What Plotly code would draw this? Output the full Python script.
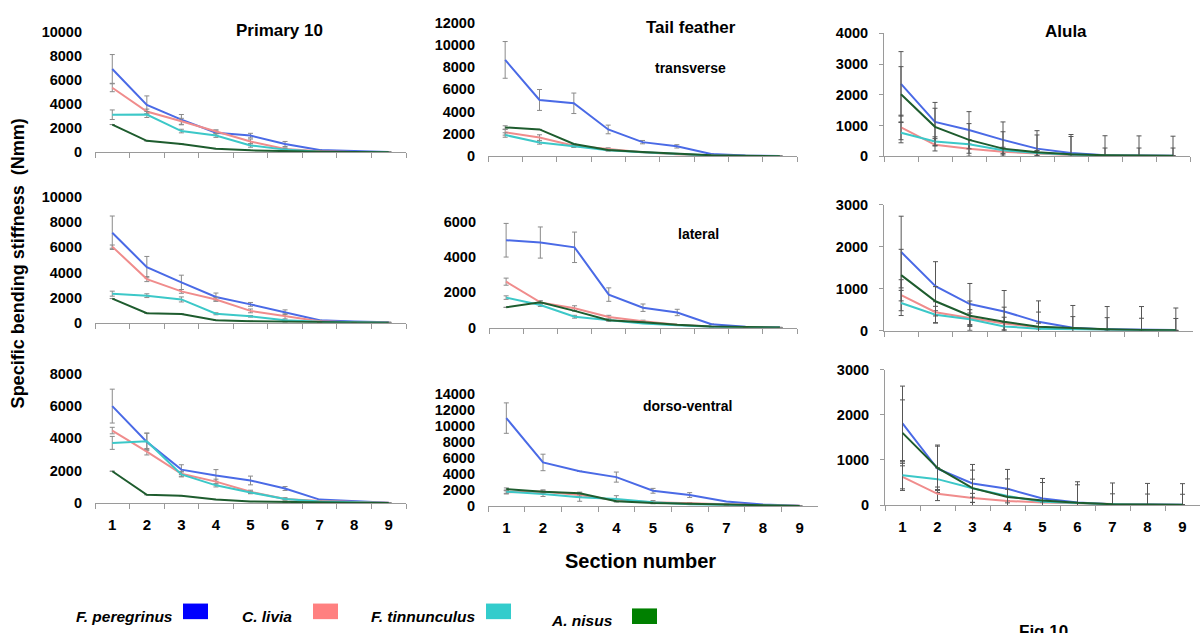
import plotly.graph_objects as go
from plotly.subplots import make_subplots

W, H = 1200, 633
sections = ["1", "2", "3", "4", "5", "6", "7", "8", "9"]
species = ["F. peregrinus", "C. livia", "F. tinnunculus", "A. nisus"]
line_colors = ["#4a6ae6", "#f08c8c", "#3cc8c8", "#1e5c2e"]
legend_colors = ["#0000ff", "#ff8080", "#33cccc", "#008000"]
col_titles = ["Primary 10", "Tail feather", "Alula"]
row_labels = ["transverse", "lateral", "dorso-ventral"]
y_ticks = [
    [[0, 2000, 4000, 6000, 8000, 10000], [0, 2000, 4000, 6000, 8000, 10000, 12000], [0, 1000, 2000, 3000, 4000]],
    [[0, 2000, 4000, 6000, 8000, 10000], [0, 2000, 4000, 6000], [0, 1000, 2000, 3000]],
    [[0, 2000, 4000, 6000, 8000], [0, 2000, 4000, 6000, 8000, 10000, 12000, 14000], [0, 1000, 2000, 3000]],
]

N = None
# values per panel, series in order: peregrinus, livia, tinnunculus, nisus
primary_transverse = [
    [6950, 3950, 2720, 1630, 1390, 690, 190, 80, 20],
    [5380, 3400, 2580, 1710, 900, 270, 80, 30, 10],
    [3130, 3150, 1770, 1390, 570, 220, 50, 20, 10],
    [2310, 950, 680, 300, 160, 80, 40, 20, 10],
]
primary_transverse_err = [
    [1200, 750, 430, 220, 190, 210, N, N, N],
    [330, 200, 250, 150, 200, 100, N, N, N],
    [400, 250, 150, 150, 150, 80, N, N, N],
    [N, N, N, N, N, N, N, N, N],
]
tail_transverse = [
    [8650, 5050, 4750, 2400, 1260, 880, 200, 60, 20],
    [2140, 1670, 940, 650, 360, 180, 60, 20, 0],
    [1900, 1230, 880, 530, 340, 170, 60, 20, 0],
    [2580, 2400, 1090, 560, 380, 200, 80, 30, 0],
]
tail_transverse_err = [
    [1650, 940, 920, 390, 150, 150, N, N, N],
    [250, 250, 100, 100, N, N, N, N, N],
    [200, 150, 100, 80, N, N, N, N, N],
    [150, N, N, N, N, N, N, N, N],
]
alula_transverse = [
    [2355, 1115, 850, 530, 245, 105, 30, 20, 10],
    [935, 370, 245, 140, 85, 40, 20, 10, 5],
    [765, 480, 390, 190, 105, 50, 20, 10, 5],
    [2015, 955, 530, 245, 125, 60, 30, 20, 10],
]
alula_transverse_err = [
    [1050, 635, 600, 585, 585, 600, 635, 640, 640],
    [400, 200, 150, 100, 80, N, N, N, N],
    [330, 150, 150, 100, 80, N, N, N, N],
    [900, 605, 530, 550, 565, 580, 235, 245, 255],
]
primary_lateral = [
    [7165, 4430, 3220, 2060, 1470, 850, 200, 100, 50],
    [6060, 3480, 2500, 1860, 950, 515, 130, 50, 20],
    [2320, 2160, 1860, 720, 515, 200, 80, 30, 10],
    [1930, 770, 700, 200, 130, 80, 40, 20, 10],
]
primary_lateral_err = [
    [1330, 850, 570, 310, 150, 180, N, N, N],
    [130, 200, 150, 150, 150, 200, N, N, N],
    [200, 150, 200, 80, 60, N, N, N, N],
    [N, N, N, N, N, N, N, N, N],
]
tail_lateral = [
    [4940, 4810, 4540, 1870, 1130, 860, 200, 55, 20],
    [2600, 1430, 1100, 600, 365, 165, 55, 20, 10],
    [1700, 1280, 620, 420, 240, 145, 55, 20, 10],
    [1150, 1430, 950, 420, 310, 165, 70, 20, 10],
]
tail_lateral_err = [
    [950, 880, 860, 380, 210, 180, N, N, N],
    [200, 100, 140, 100, 60, N, N, N, N],
    [100, 80, 80, 60, N, N, N, N, N],
    [N, N, N, N, N, N, N, N, N],
]
alula_lateral = [
    [1875, 1060, 635, 457, 210, 70, 30, 15, 15],
    [845, 440, 300, 170, 78, 40, 20, 10, 5],
    [660, 380, 270, 100, 45, 30, 15, 10, 5],
    [1325, 700, 357, 210, 93, 55, 30, 15, 10],
]
alula_lateral_err = [
    [855, 585, 490, 500, 500, 530, 545, 560, 525],
    [370, 250, 200, 150, 100, N, N, N, N],
    [300, 200, 150, 100, N, N, N, N, N],
    [615, 350, 350, 350, 350, 280, 280, 280, 280],
]
primary_dorsoventral = [
    [5990, 3780, 2070, 1710, 1400, 905, 220, 100, 20],
    [4480, 3175, 1810, 1330, 700, 260, 140, 60, 20],
    [3720, 3820, 1770, 1100, 660, 260, 100, 40, 10],
    [1970, 520, 460, 220, 100, 60, 40, 20, 10],
]
primary_dorsoventral_err = [
    [1045, 540, 300, 360, 270, 120, N, N, N],
    [200, 200, 150, 150, 100, 80, N, N, N],
    [400, 500, 150, 100, 80, N, N, N, N],
    [N, N, N, N, N, N, N, N, N],
]
tail_dorsoventral = [
    [10990, 5450, 4350, 3620, 1910, 1380, 570, 200, 40],
    [1710, 1830, 1380, 690, 490, 410, 240, 100, 30],
    [1790, 1500, 1100, 900, 490, 240, 160, 80, 20],
    [2120, 1790, 1590, 610, 370, 285, 160, 80, 20],
]
tail_dorsoventral_err = [
    [1900, 1030, N, 630, 300, 300, N, N, N],
    [200, 200, 150, 100, N, N, N, N, N],
    [200, 300, 500, 400, 200, N, N, N, N],
    [150, 150, 150, N, N, N, N, N, N],
]
alula_dorsoventral = [
    [1810, 805, 480, 360, 145, 57, 20, 15, 10],
    [625, 250, 160, 93, 57, 36, 20, 10, 5],
    [660, 575, 375, 200, 72, 43, 20, 10, 5],
    [1600, 825, 375, 180, 100, 50, 20, 15, 10],
]
alula_dorsoventral_err = [
    [825, 525, 420, 430, 445, 460, 470, 465, 465],
    [300, 150, 100, N, N, N, N, N, N],
    [300, 250, 200, 150, N, N, N, N, N],
    [730, 480, 400, 400, 400, 400, 230, 230, 230],
]

panels = [
    [(primary_transverse, primary_transverse_err), (tail_transverse, tail_transverse_err), (alula_transverse, alula_transverse_err)],
    [(primary_lateral, primary_lateral_err), (tail_lateral, tail_lateral_err), (alula_lateral, alula_lateral_err)],
    [(primary_dorsoventral, primary_dorsoventral_err), (tail_dorsoventral, tail_dorsoventral_err), (alula_dorsoventral, alula_dorsoventral_err)],
]

# pixel layout of plot areas: (x_left, x_right, y_zero, y_top)
boxes = [
    [(95, 406, 148, 25), (488, 797, 152, 15), (884, 1190, 152, 26)],
    [(95, 406, 323, 194), (489, 797, 328, 219), (884, 1193, 331, 202)],
    [(95, 406, 508, 375), (488, 818, 511, 396), (885, 1200, 510, 371)],
]

FONT = "Liberation Sans, Arial, sans-serif"
fig = make_subplots(rows=3, cols=3)

for r in range(3):
    for c in range(3):
        vals, errs = panels[r][c]
        err_color = "#555555" if c == 2 else "#8a8a8a"
        for s in range(4):
            fig.add_trace(
                go.Scatter(
                    x=sections, y=vals[s], mode="lines", name=species[s],
                    line=dict(color=line_colors[s], width=2),
                    error_y=dict(type="data", array=errs[s], visible=True,
                                 color=err_color, thickness=1, width=2.5),
                    showlegend=False,
                ),
                row=r + 1, col=c + 1,
            )
        idx = r * 3 + c + 1
        xl, xr, y0, yt = boxes[r][c]
        ticks = y_ticks[r][c]
        xa = dict(
            domain=[xl / W, xr / W], type="category", range=[-0.5, 8.5],
            showline=True, linecolor="#9a9a9a", linewidth=1,
            ticks="outside", tickson="boundaries", ticklen=5, tickcolor="#9a9a9a",
            showgrid=False, zeroline=False, showticklabels=(r == 2),
            tickfont=dict(family=FONT, size=15, color="black", weight="bold"),
            ticklabelstandoff=8,
        )
        ya = dict(
            domain=[1 - y0 / H, 1 - yt / H], range=[0, ticks[-1]],
            tickvals=ticks, ticktext=[str(t) for t in ticks],
            showgrid=False, zeroline=False,
            showline=(c == 2), linecolor="#9a9a9a", linewidth=1,
            ticks="outside" if c == 2 else "", ticklen=4, tickcolor="#9a9a9a",
            tickfont=dict(family=FONT, size=14.5, color="black", weight="bold"),
            ticklabelstandoff=8 if c == 2 else 12,
        )
        fig.layout["xaxis" + ("" if idx == 1 else str(idx))].update(xa)
        fig.layout["yaxis" + ("" if idx == 1 else str(idx))].update(ya)


def note(text, px, py, size, xanchor="center", yanchor="middle", angle=0):
    return dict(text=text, x=px / W, y=1 - py / H, xref="paper", yref="paper",
                xanchor=xanchor, yanchor=yanchor, textangle=angle, showarrow=False,
                font=dict(family=FONT, size=size, color="black"))


annotations = []
title_pos = [(279, 23), (691, 20), (1066, 24)]
for t, (px, py) in zip(col_titles, title_pos):
    annotations.append(note("<b>%s</b>" % t, px, py, 17))
label_pos = [(690, 62), (698, 232), (687, 408)]
for t, (px, py) in zip(row_labels, label_pos):
    annotations.append(note("<b>%s</b>" % t, px, py, 14))
annotations.append(note("<b>Specific bending stiffness  (Nmm)</b>", 18, 262, 18, angle=-90))
annotations.append(note("<b>Section number</b>", 640, 567, 20))

shapes = []
legend_text_left = [74, 240, 369, 549]
legend_sq = [(183, 611), (313, 611), (486, 611), (632, 616)]
legend_text_y = [624, 624, 624, 628]
for i in range(4):
    annotations.append(note("<b><i>%s</i></b>" % species[i], legend_text_left[i], legend_text_y[i], 15.5,
                            xanchor="left"))
    sx, sy = legend_sq[i]
    shapes.append(dict(type="rect", xref="paper", yref="paper", x0=sx / W, x1=(sx + 25) / W,
                       y0=1 - (sy + 16) / H, y1=1 - sy / H, fillcolor=legend_colors[i], line=dict(width=0)))
annotations.append(note("<b>Fig 10</b>", 1043, 628, 17, yanchor="top"))

fig.update_layout(
    width=W, height=H, margin=dict(l=0, r=0, t=0, b=0),
    paper_bgcolor="white", plot_bgcolor="white",
    annotations=annotations, shapes=shapes, showlegend=False,
)
fig.write_html("out.html", config={"displayModeBar": False},
               post_script="document.body.style.margin='0';")
